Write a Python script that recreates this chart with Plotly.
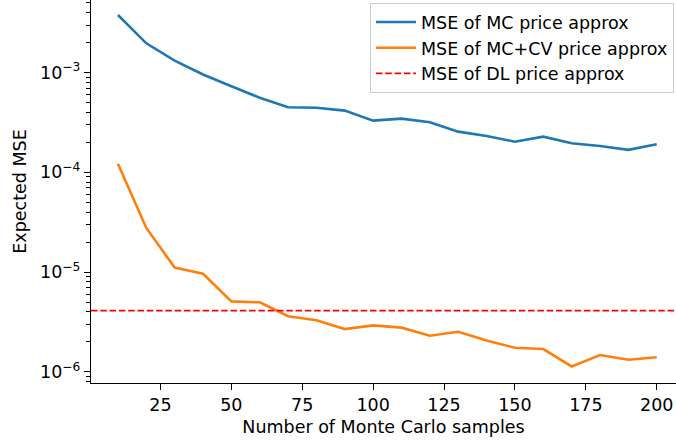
import plotly.graph_objects as go

samples = [10, 20, 30, 40, 50, 60, 70, 80, 90, 100, 110, 120, 130, 140, 150, 160, 170, 180, 190, 200]
mse_mc = [3.79e-3, 1.97e-3, 1.32e-3, 9.6e-4, 7.3e-4, 5.6e-4, 4.5e-4, 4.45e-4, 4.16e-4, 3.3e-4,
          3.46e-4, 3.18e-4, 2.56e-4, 2.32e-4, 2.03e-4, 2.28e-4, 1.96e-4, 1.84e-4, 1.68e-4, 1.91e-4]
mse_mccv = [1.22e-4, 2.77e-5, 1.11e-5, 9.6e-6, 5.08e-6, 4.97e-6, 3.6e-6, 3.28e-6, 2.68e-6, 2.92e-6,
            2.77e-6, 2.3e-6, 2.52e-6, 2.06e-6, 1.74e-6, 1.69e-6, 1.13e-6, 1.47e-6, 1.32e-6, 1.40e-6]
mse_dl = 4.1e-6

x_ticks = [25, 50, 75, 100, 125, 150, 175, 200]
y_ticks = [1e-6, 1e-5, 1e-4, 1e-3]
y_tick_text = ["10<sup>\u22126</sup>", "10<sup>\u22125</sup>", "10<sup>\u22124</sup>", "10<sup>\u22123</sup>"]
minor_vals = [m * 10.0 ** k for k in range(-7, -2) for m in range(2, 10)]

FONT = "DejaVu Sans"
FS = 17.5

fig = go.Figure()
fig.add_trace(go.Scatter(x=samples, y=mse_mc, mode="lines", name="MSE of MC price approx",
                         line=dict(color="#1f77b4", width=2.6)))
fig.add_trace(go.Scatter(x=samples, y=mse_mccv, mode="lines", name="MSE of MC+CV price approx",
                         line=dict(color="#ff7f0e", width=2.6)))
fig.add_trace(go.Scatter(x=[0.5, 206.8], y=[mse_dl, mse_dl], mode="lines", name="MSE of DL price approx",
                         line=dict(color="red", width=1.8, dash="6.5px,2.8px")))

fig.update_layout(
    width=676, height=445,
    margin=dict(l=91, r=0, t=0, b=62, autoexpand=False),
    paper_bgcolor="white", plot_bgcolor="white",
    font=dict(family=FONT, size=FS, color="black"),
    showlegend=True,
    legend=dict(x=0.9966, y=0.992, xanchor="right", yanchor="top",
                bgcolor="rgba(255,255,255,0.8)", bordercolor="#cccccc", borderwidth=1,
                font=dict(family=FONT, size=FS), tracegroupgap=0, itemwidth=40),
    xaxis=dict(range=[0.5, 206.8], tickvals=x_ticks, ticks="outside", ticklen=6, tickwidth=1.3,
               tickcolor="black", showline=True, linecolor="black", linewidth=1.3,
               showgrid=False, zeroline=False, mirror=False, automargin=False,
               title=dict(text="Number of Monte Carlo samples", standoff=6,
                          font=dict(family=FONT, size=FS))),
    yaxis=dict(type="log", range=[-6.113, -2.271], tickvals=y_ticks, ticktext=y_tick_text,
               ticks="outside", ticklen=6, tickwidth=1.3, tickcolor="black", automargin=False,
               showline=True, linecolor="black", linewidth=1.3, showgrid=False, zeroline=False,
               minor=dict(tickvals=minor_vals, ticks="outside", ticklen=3.5, tickwidth=1,
                          tickcolor="black", showgrid=False),
               title=dict(text="Expected MSE", standoff=8, font=dict(family=FONT, size=FS))),
)

fig.write_html("out.html", config={"displayModeBar": False},
               post_script="document.body.style.margin='0';document.body.style.overflow='hidden';")
